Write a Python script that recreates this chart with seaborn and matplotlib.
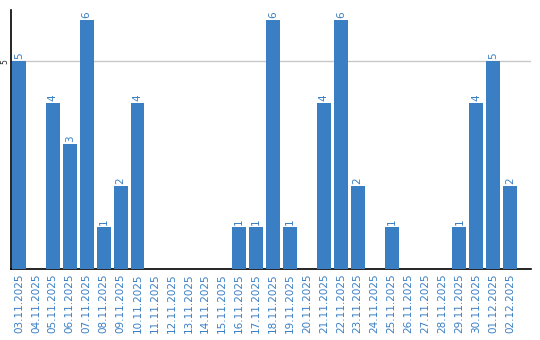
import matplotlib
matplotlib.use("Agg")
import matplotlib.pyplot as plt
import seaborn as sns
import pandas as pd

dates = ["03.11.2025", "04.11.2025", "05.11.2025", "06.11.2025", "07.11.2025",
         "08.11.2025", "09.11.2025", "10.11.2025", "11.11.2025", "12.11.2025",
         "13.11.2025", "14.11.2025", "15.11.2025", "16.11.2025", "17.11.2025",
         "18.11.2025", "19.11.2025", "20.11.2025", "21.11.2025", "22.11.2025",
         "23.11.2025", "24.11.2025", "25.11.2025", "26.11.2025", "27.11.2025",
         "28.11.2025", "29.11.2025", "30.11.2025", "01.12.2025", "02.12.2025"]
values = [5, 0, 4, 3, 6, 1, 2, 4, 0, 0,
          0, 0, 0, 1, 1, 6, 1, 0, 4, 6,
          2, 0, 1, 0, 0, 0, 1, 4, 5, 2]

sns.set_theme(style="white")
plt.rcParams['font.family'] = ['DejaVu Sans']

df = pd.DataFrame({"date": dates, "value": values})
bar_color = "#3a7fc4"

fig = plt.figure(figsize=(5.4, 3.4), dpi=100)
ax = fig.add_axes([10.5/540, 71/340, 520/540, 259/340])
sns.barplot(data=df, x="date", y="value", color=bar_color, width=0.82,
            saturation=1, ax=ax, zorder=3, linewidth=0)

ax.set_ylim(0, 6.24)
ax.set_xlim(-0.5, len(dates) - 0.5 + 0.7)
ax.set_yticks([5])
ax.set_yticklabels(["5"], rotation=90, fontsize=5.5, va="center")
ax.yaxis.grid(True, color="#c8c8c8", linewidth=1, zorder=0)
ax.tick_params(axis="y", length=0, pad=1)
ax.tick_params(axis="x", length=0, pad=3)
ax.set_xticks(range(len(dates)))
ax.set_xticklabels(dates, rotation=90, fontsize=7.5, color=bar_color)
ax.set_xlabel("")
ax.set_ylabel("")

for s in ["top", "right"]:
    ax.spines[s].set_visible(False)
for s in ["left", "bottom"]:
    ax.spines[s].set_color("black")
    ax.spines[s].set_linewidth(1.2)

for i, v in enumerate(values):
    if v > 0:
        ax.text(i, v + 0.05, str(v), rotation=90, ha="center", va="bottom",
                fontsize=7.5, color=bar_color)

fig.savefig("out.png", dpi=100)
